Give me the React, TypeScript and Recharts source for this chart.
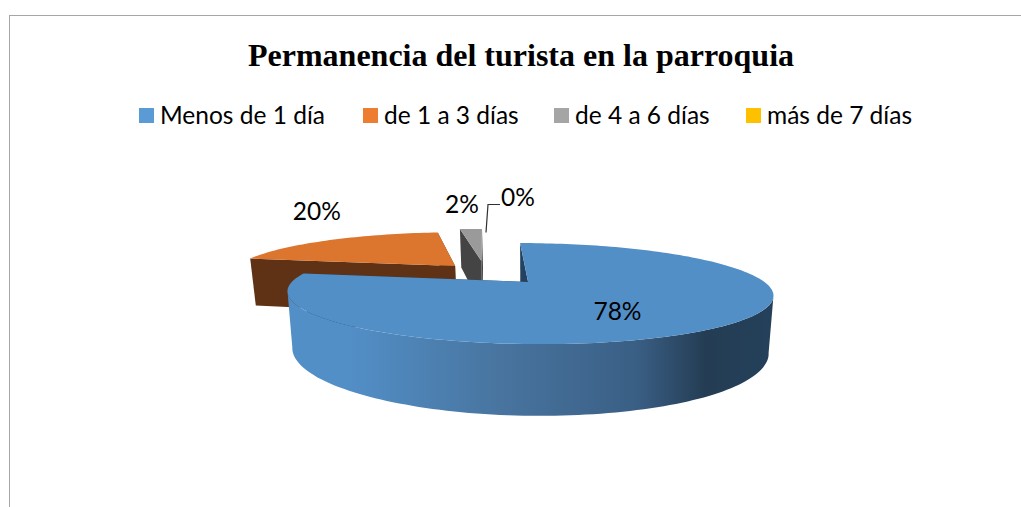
import React from "react";
import { PieChart, Pie, Legend } from "recharts";

const title = "Permanencia del turista en la parroquia";
const categories = ["Menos de 1 día", "de 1 a 3 días", "de 4 a 6 días", "más de 7 días"];
const shares = [78, 20, 2, 0];
const legendColors = ["#5b9bd5", "#ed7d31", "#a5a5a5", "#ffc000"];
const topColors = ["#528fc7", "#dc752d", "#9a9a9a", "#ffc000"];
const sideColors = ["#24425f", "#5f3115", "#444444", "#7f6000"];
// how far each slice is pulled out of the pie, as a fraction of the radius
const explode = [0.286, 0.2, 0.27, 0];
// label placement: radius fraction along the slice's middle, then a nudge
const labelRadius = [0.55, 1.15, 1, 1.1];
const labelNudge = [[-7, 6], [3, -26], [-9, -25], [33, -37]];
const legendLeft = [139, 363, 554, 746];

// Drawn back to front, sweeping counter-clockwise from twelve o'clock, so the big slice is painted last
const rows = categories
  .map((name, i) => ({ name, value: shares[i], index: i }))
  .reverse();

const RAD = Math.PI / 180;
const HORIZON = 199;
const FORESHORTEN = 0.218;
const SIDE_X = 531;
const FONT = "Lato, 'Noto Sans', sans-serif";

function project(cx: number, cy: number, R: number, X: number, Y: number) {
  const s = 1 / (1 + (FORESHORTEN / R) * Y);
  return { x: cx + X * s, y: cy - HORIZON + HORIZON * s };
}
function drop(p: { x: number; y: number }) {
  const h = 39 + 0.289 * (p.y - 231);
  return { x: SIDE_X + (p.x - SIDE_X) * 0.98, y: p.y + h };
}
const toPath = (pts: { x: number; y: number }[]) =>
  pts.map((p, i) => `${i ? "L" : "M"}${p.x.toFixed(1)},${p.y.toFixed(1)}`).join(" ") + " Z";

function Slice3D(props: any) {
  const { cx, cy, outerRadius: R, startAngle, endAngle, payload } = props;
  const i = payload.index;
  if (Math.abs(endAngle - startAngle) < 0.01) return <g />;
  const mid = ((startAngle + endAngle) / 2) * RAD;
  const ox = explode[i] * R * Math.cos(mid);
  const oy = explode[i] * R * Math.sin(mid);
  const at = (deg: number, r: number) =>
    project(cx, cy, R, ox + r * Math.cos(deg * RAD), oy + r * Math.sin(deg * RAD));
  const apex = at(0, 0);
  const angles: number[] = [];
  for (let a = startAngle; a < endAngle; a += 1.5) angles.push(a);
  angles.push(endAngle);
  const rim = angles.map((a) => at(a, R));
  const lower = angles.filter((a) => Math.sin(a * RAD) < 0.19).map((a) => at(a, R));
  // the wall is bounded by the rim's silhouette: from its leftmost to its rightmost point
  let front: { x: number; y: number }[] = [];
  if (lower.length > 1) {
    const xs = lower.map((p) => p.x);
    const a = xs.indexOf(Math.min(...xs));
    const b = xs.indexOf(Math.max(...xs));
    front = lower.slice(Math.min(a, b), Math.max(a, b) + 1);
  }
  const gid = `wall-${i}`;
  const first = rim[0];
  const last = rim[rim.length - 1];
  return (
    <g>
      <defs>
        <linearGradient id={gid} gradientUnits="userSpaceOnUse" x1="290" x2="770" y1="0" y2="0">
          <stop offset="0" stopColor="#528fc7" />
          <stop offset="0.12" stopColor="#528fc7" />
          <stop offset="0.44" stopColor="#48749f" />
          <stop offset="0.72" stopColor="#3a5f85" />
          <stop offset="0.865" stopColor="#243d54" />
          <stop offset="1" stopColor="#24405a" />
        </linearGradient>
      </defs>
      <path d={toPath([first, apex, drop(apex), drop(first)])} fill={sideColors[i]} />
      <path d={toPath([last, apex, drop(apex), drop(last)])} fill={sideColors[i]} />
      {front.length > 1 && (
        <path
          d={toPath([...front, ...front.slice().reverse().map(drop)])}
          fill={`url(#${gid})`}
        />
      )}
      <path d={toPath([apex, ...rim])} fill={topColors[i]} />
    </g>
  );
}

function SliceLabel(props: any) {
  const { cx, cy, outerRadius: R, midAngle, payload } = props;
  const i = payload.index;
  const m = midAngle * RAD;
  const ox = explode[i] * R * Math.cos(m);
  const oy = explode[i] * R * Math.sin(m);
  const r = labelRadius[i] * R;
  const p = project(cx, cy, R, ox + r * Math.cos(m), oy + r * Math.sin(m));
  const x = p.x + labelNudge[i][0];
  const y = p.y + labelNudge[i][1];
  return (
    <g>
      {payload.value === 0 && (
        <polyline
          points={`${p.x + 1},${p.y - 1} ${p.x + 3},${y + 8} ${x - 18},${y + 8}`}
          fill="none"
          stroke="#303030"
          strokeWidth={1.2}
        />
      )}
      <text x={x} y={y} textAnchor="middle" dominantBaseline="central" fontFamily={FONT} fontSize={24.5} fill="#000">
        {`${payload.value}%`}
      </text>
    </g>
  );
}

function LegendRow() {
  return (
    <div style={{ position: "relative", width: 1021, height: 30, fontFamily: FONT, fontSize: 24.5, color: "#000" }}>
      {categories.map((name, i) => (
        <div key={name} style={{ position: "absolute", left: legendLeft[i], top: 0, whiteSpace: "nowrap", lineHeight: "30px" }}>
          <span style={{ position: "absolute", left: 0, top: 8, width: 15, height: 15, background: legendColors[i] }} />
          <span style={{ marginLeft: 21 }}>{name}</span>
        </div>
      ))}
    </div>
  );
}

export default function App() {
  return (
    <div style={{ position: "absolute", left: 0, top: 0, width: 1021, height: 507, overflow: "hidden", background: "#fff" }}>
      <div style={{ position: "absolute", left: 9, top: 15, width: 1012, height: 492, borderLeft: "1px solid #a6a6a6", borderTop: "1px solid #a6a6a6" }} />
      <div style={{ position: "absolute", left: 0, top: 0 }}>
        <PieChart width={1021} height={507}>
          <text x={521} y={66} textAnchor="middle" fontFamily="'Liberation Serif', serif" fontWeight="bold" fontSize={32} fill="#000">
            {title}
          </text>
          <Legend
            content={() => <LegendRow />}
            wrapperStyle={{ position: "absolute", left: 0, top: 100, width: 1021, height: 30 }}
          />
          <Pie
            data={rows}
            dataKey="value"
            nameKey="name"
            cx={480}
            cy={267}
            outerRadius={225}
            startAngle={90}
            endAngle={450}
            stroke="none"
            isAnimationActive={false}
            shape={Slice3D}
            label={SliceLabel}
            labelLine={false}
          />
        </PieChart>
      </div>
    </div>
  );
}
